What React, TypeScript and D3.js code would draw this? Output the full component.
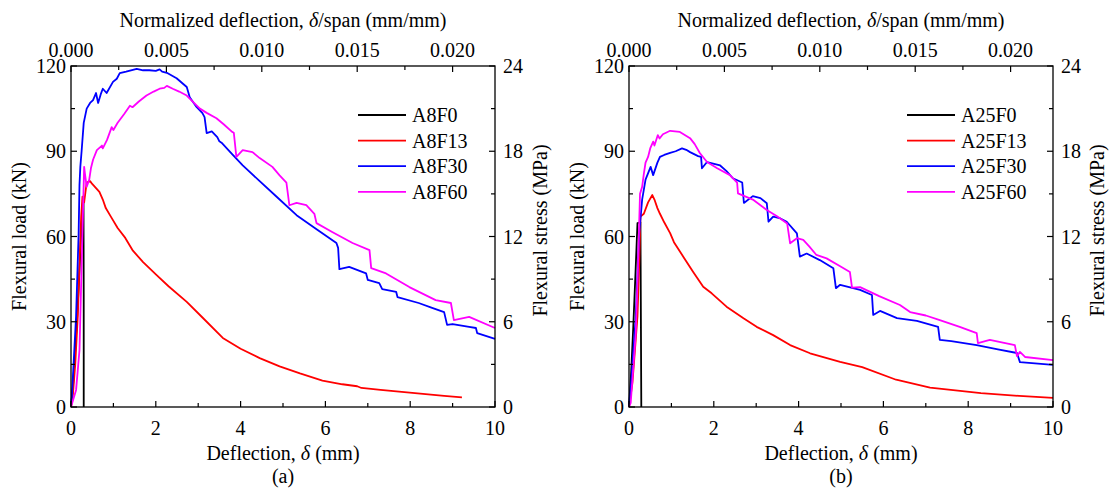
import React from "react";
import * as d3 from "d3";

type Pt = [number, number];

const SPAN = 450; // mm
const xTicks = [0, 2, 4, 6, 8, 10];
const xMinor = [1, 3, 5, 7, 9];
const loadTicks = [0, 30, 60, 90, 120];
const loadMinor = [15, 45, 75, 105];
const stressTicks = [0, 6, 12, 18, 24];
const stressMinor = [3, 9, 15, 21];
const normTicks = [0, 0.005, 0.01, 0.015, 0.02];
const normMinor = [0.0025, 0.0075, 0.0125, 0.0175];

const seriesColors = ["#000000", "#ff0000", "#0000ff", "#ff00ff"];
const namesA = ["A8F0", "A8F13", "A8F30", "A8F60"];
const namesB = ["A25F0", "A25F13", "A25F30", "A25F60"];

const a8f0: Pt[] = [[0,0],[0.05,8],[0.1,20],[0.15,33],[0.2,48],[0.25,64],[0.28,72],[0.295,72],[0.3,40],[0.3,0]];
const a8f13: Pt[] = [[0,0],[0.04,3.5],[0.1,15],[0.16,32],[0.2,50],[0.24,67],[0.27,74],[0.31,72],[0.37,79],[0.45,79.5],[0.5,78.5],[0.67,75.7],[0.75,73],[0.82,70],[0.94,67],[1.1,63],[1.28,59.5],[1.46,55],[1.7,51],[2.02,46.4],[2.3,42.5],[2.73,37],[3.1,31.5],[3.58,24.3],[4.0,20.5],[4.45,17.2],[4.92,14.3],[5.4,11.8],[5.93,9.3],[6.4,8.0],[6.75,7.3],[6.85,6.7],[7.3,6.0],[7.8,5.3],[8.3,4.6],[8.8,3.9],[9.22,3.4]];
const a8f30: Pt[] = [[0,0],[0.02,3.5],[0.12,32],[0.18,61],[0.2,78],[0.22,84.5],[0.25,90],[0.3,100],[0.37,105],[0.45,107],[0.52,108],[0.59,110.5],[0.64,107],[0.7,110],[0.75,112],[0.84,110.5],[0.99,114.4],[1.08,115.5],[1.15,117.5],[1.3,118],[1.55,119],[1.7,118.5],[1.85,118.5],[2.0,118.3],[2.09,118.8],[2.15,118],[2.26,117.6],[2.49,115.7],[2.73,112.6],[2.8,109],[2.96,105.6],[3.1,103.4],[3.15,102],[3.2,96.4],[3.32,97],[3.45,95],[3.5,93.5],[3.55,93],[3.8,89],[4.05,85],[4.45,79.5],[4.85,74],[5.32,67.5],[5.8,62.5],[6.26,57.7],[6.3,56],[6.33,48.5],[6.56,49.3],[6.96,47],[7.0,44.7],[7.27,43.6],[7.34,41.5],[7.67,40.5],[7.7,38.7],[8.2,36.6],[8.5,35],[8.8,33.4],[8.87,28.9],[9.0,29.2],[9.39,28.2],[9.55,27.8],[9.58,26],[10,24]];
const a8f60: Pt[] = [[0,0],[0.12,6],[0.2,20],[0.24,43.6],[0.28,67],[0.31,84.5],[0.33,82],[0.37,77.5],[0.43,80],[0.47,84],[0.52,87],[0.61,90.4],[0.73,92],[0.75,91],[0.85,94],[0.96,98.5],[1.0,97.5],[1.1,100],[1.25,103],[1.39,106],[1.45,105.5],[1.6,107.5],[1.78,109.6],[1.95,111],[2.09,112],[2.2,112.3],[2.26,113],[2.4,112],[2.55,111],[2.73,109.6],[2.9,107],[3.04,105],[3.2,103.5],[3.43,101.6],[3.6,99.5],[3.8,96.8],[3.84,96.5],[3.9,88],[4.05,90.4],[4.28,89.7],[4.45,87.6],[4.75,84.5],[4.92,81.5],[5.08,79],[5.15,71],[5.32,71.8],[5.55,71],[5.74,68],[5.79,64.7],[6.16,61.6],[6.64,57.7],[7.04,55.2],[7.08,48.9],[7.43,47],[7.98,42.2],[8.6,37.6],[8.96,36.6],[9.03,30.6],[9.39,31.7],[10,27.8]];

const a25f0: Pt[] = [[0,0],[0.05,12],[0.1,28],[0.15,46],[0.2,64.7],[0.27,65],[0.29,0]];
const a25f13: Pt[] = [[0,0],[0.08,8.4],[0.14,20],[0.2,32],[0.24,50],[0.27,67],[0.35,68],[0.45,72],[0.55,74.6],[0.6,73],[0.67,70],[0.73,68],[0.83,65],[0.97,61.2],[1.06,58],[1.28,52.9],[1.51,47.6],[1.75,42.3],[1.95,40],[2.3,35.3],[2.7,31.2],[3.01,28.2],[3.4,25.3],[3.8,21.8],[4.27,18.9],[4.98,15.9],[5.5,14],[6.3,9.6],[7.1,6.8],[8.3,4.9],[9.2,3.9],[10,3.2]];
const a25f30: Pt[] = [[0,0],[0.05,8.4],[0.16,32],[0.24,61],[0.31,73],[0.39,80],[0.51,84.5],[0.57,81.6],[0.67,86],[0.73,88],[0.83,88.7],[0.97,89.4],[1.1,90],[1.25,91],[1.35,90.5],[1.44,89.7],[1.63,88.3],[1.7,88],[1.72,84],[1.84,86.2],[2.15,85],[2.3,83],[2.45,80.5],[2.67,79],[2.71,71.8],[2.92,74.2],[3.1,73.5],[3.25,71.7],[3.29,65.2],[3.4,67],[3.55,66.5],[3.72,65.2],[3.96,61.1],[4.03,52.9],[4.19,54],[4.5,51.7],[4.82,48.8],[4.88,41.8],[4.98,43],[5.45,41.2],[5.73,39.4],[5.76,32.4],[5.92,33.8],[6.32,31.3],[6.79,30.3],[7.29,28.2],[7.33,23.6],[7.6,23.2],[8.2,21.8],[8.7,20.3],[9.15,19],[9.22,15.8],[10,14.8]];
const a25f60: Pt[] = [[0,0],[0.04,1.4],[0.16,26],[0.21,49],[0.26,75],[0.31,77.5],[0.35,82],[0.39,86],[0.45,88],[0.5,91],[0.57,93.4],[0.6,92],[0.68,95.7],[0.72,94.5],[0.8,96],[0.97,97.2],[1.2,96.8],[1.44,94.6],[1.55,92.5],[1.67,89.4],[1.84,86.2],[2.08,84],[2.38,81.6],[2.55,79],[2.57,75.2],[2.92,73],[3.25,69.3],[3.5,67],[3.73,64.6],[3.8,57.6],[3.96,59.4],[4.11,58.8],[4.25,56.5],[4.42,53.5],[4.66,52.3],[4.98,49.5],[5.21,47.5],[5.26,42],[5.45,42.2],[5.9,39],[6.39,35.9],[6.63,33.4],[7.0,32.2],[7.33,30.6],[7.8,28.2],[8.2,26],[8.23,22.5],[8.51,23.6],[9.1,21.8],[9.15,17.9],[9.22,19.4],[9.34,17.6],[10,16.5]];

const FONT = "Liberation Serif";
const FS = 20;

type PanelProps = {
  x0: number;
  x1: number;
  series: Pt[][];
  names: string[];
  label: string;
  legendX: number;
  leftTitleX: number;
  rightTitleX: number;
};

const Y0 = 66;
const Y1 = 407;

function T(props: any) {
  return <text fontFamily={FONT} fontSize={FS} fill="#000" {...props} />;
}

function Panel({ x0, x1, series, names, label, legendX, leftTitleX, rightTitleX }: PanelProps) {
  const x = d3.scaleLinear().domain([0, 10]).range([x0, x1]);
  const xn = d3.scaleLinear().domain([0, 10 / SPAN]).range([x0, x1]);
  const y = d3.scaleLinear().domain([0, 120]).range([Y1, Y0]);
  const ys = d3.scaleLinear().domain([0, 24]).range([Y1, Y0]);
  const line = d3
    .line<Pt>()
    .x((d) => x(d[0]))
    .y((d) => y(d[1]));
  const MAJ = 6;
  const MIN = 4;
  const cx = (x0 + x1) / 2;
  return (
    <g>
      {series.map((s, i) => (
        <path key={i} d={line(s) || ""} fill="none" stroke={seriesColors[i]} strokeWidth={1.8} strokeLinejoin="round" />
      ))}
      <rect x={x0} y={Y0} width={x1 - x0} height={Y1 - Y0} fill="none" stroke="#000" strokeWidth={1.3} />
      {xTicks.map((t) => (
        <g key={"b" + t}>
          <line x1={x(t)} x2={x(t)} y1={Y1} y2={Y1 - MAJ} stroke="#000" strokeWidth={1.2} />
          <T x={x(t)} y={435} textAnchor="middle">{t}</T>
        </g>
      ))}
      {xMinor.map((t) => (
        <line key={"bm" + t} x1={x(t)} x2={x(t)} y1={Y1} y2={Y1 - MIN} stroke="#000" strokeWidth={1.2} />
      ))}
      {normTicks.map((t) => (
        <g key={"t" + t}>
          <line x1={xn(t)} x2={xn(t)} y1={Y0} y2={Y0 + MAJ} stroke="#000" strokeWidth={1.2} />
          <T x={xn(t)} y={57} textAnchor="middle">{t.toFixed(3)}</T>
        </g>
      ))}
      {normMinor.map((t) => (
        <line key={"tm" + t} x1={xn(t)} x2={xn(t)} y1={Y0} y2={Y0 + MIN} stroke="#000" strokeWidth={1.2} />
      ))}
      {loadTicks.map((t) => (
        <g key={"l" + t}>
          <line x1={x0} x2={x0 + MAJ} y1={y(t)} y2={y(t)} stroke="#000" strokeWidth={1.2} />
          <T x={x0 - 5} y={y(t) + 7} textAnchor="end">{t}</T>
        </g>
      ))}
      {loadMinor.map((t) => (
        <line key={"lm" + t} x1={x0} x2={x0 + MIN} y1={y(t)} y2={y(t)} stroke="#000" strokeWidth={1.2} />
      ))}
      {stressTicks.map((t) => (
        <g key={"r" + t}>
          <line x1={x1} x2={x1 - MAJ} y1={ys(t)} y2={ys(t)} stroke="#000" strokeWidth={1.2} />
          <T x={x1 + 8} y={ys(t) + 7} textAnchor="start">{t}</T>
        </g>
      ))}
      {stressMinor.map((t) => (
        <line key={"rm" + t} x1={x1} x2={x1 - MIN} y1={ys(t)} y2={ys(t)} stroke="#000" strokeWidth={1.2} />
      ))}
      <T x={cx} y={27} textAnchor="middle">
        Normalized deflection, <tspan fontStyle="italic">δ</tspan>/span (mm/mm)
      </T>
      <T x={cx} y={460} textAnchor="middle">
        Deflection, <tspan fontStyle="italic">δ</tspan> (mm)
      </T>
      <T x={cx} y={483} textAnchor="middle">{label}</T>
      <T transform={`translate(${leftTitleX},${(Y0 + Y1) / 2}) rotate(-90)`} textAnchor="middle">
        Flexural load (kN)
      </T>
      <T transform={`translate(${rightTitleX},${(Y0 + Y1) / 2 - 6}) rotate(-90)`} textAnchor="middle">
        Flexural stress (MPa)
      </T>
      {names.map((n, i) => (
        <g key={n}>
          <line x1={legendX} x2={legendX + 48} y1={115 + i * 25.6} y2={115 + i * 25.6} stroke={seriesColors[i]} strokeWidth={1.8} />
          <T x={legendX + 54} y={115 + i * 25.6 + 7}>{n}</T>
        </g>
      ))}
    </g>
  );
}

export default function App() {
  return (
    <svg
      width={1110}
      height={489}
      style={{ position: "absolute", left: 0, top: 0, background: "#fff" }}
    >
      <rect x={0} y={0} width={1110} height={489} fill="#fff" />
      <Panel x0={71} x1={495} series={[a8f0, a8f13, a8f30, a8f60]} names={namesA} label="(a)" legendX={358} leftTitleX={26} rightTitleX={547} />
      <Panel x0={629} x1={1053} series={[a25f0, a25f13, a25f30, a25f60]} names={namesB} label="(b)" legendX={907} leftTitleX={584} rightTitleX={1104} />
    </svg>
  );
}
